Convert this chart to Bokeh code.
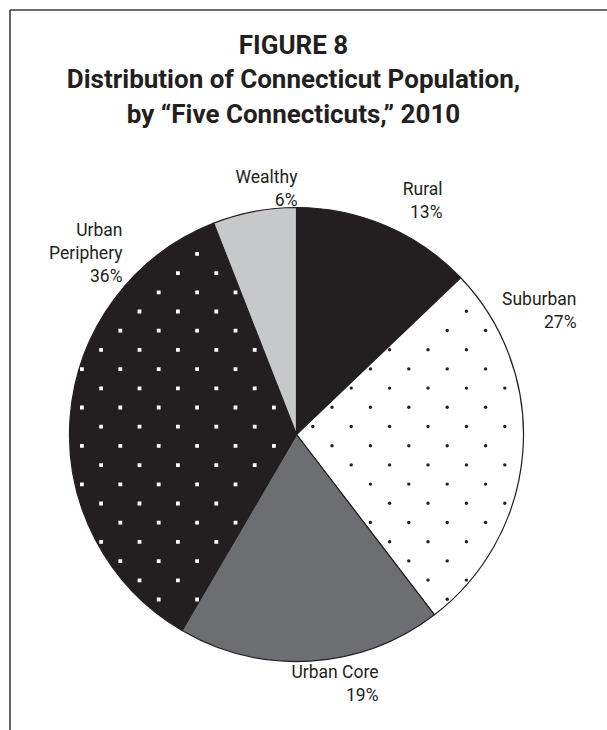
from bokeh.plotting import figure
from bokeh.models import Range1d, ColumnDataSource
from bokeh.embed import file_html
from bokeh.resources import INLINE
from bokeh.core.properties import value
import numpy as np

# ---- data ----
categories = ["Rural", "Suburban", "Urban Core", "Urban Periphery", "Wealthy"]
label_names = ["Rural", "Suburban", "Urban Core", "Urban\nPeriphery", "Wealthy"]
percents = [13, 27, 19, 36, 6]
fill_colors = ["#231f20", "#ffffff", "#6d6e71", "#231f20", "#c7c8ca"]

title_lines = ["FIGURE 8",
               "Distribution of Connecticut Population,",
               "by \u201cFive Connecticuts,\u201d 2010"]

# ---- layout (pixels) ----
W, H = 607, 730
CX, CY = 296, 434          # pie centre in page pixels
R = 227
FONT = "Roboto"
INK = "#231f20"
# label anchors: right edge x, top y (page pixels)
label_px = [(442, 178), (576, 288), (378, 661), (122, 219), (297, 166)]


def dx(px):
    return px - CX


def dy(py):
    return CY - py


vals = np.array(percents, dtype=float)
frac = vals / vals.sum()
cum = np.concatenate([[0.0], np.cumsum(frac)])
start = np.pi / 2 - cum[:-1] * 2 * np.pi
end = np.pi / 2 - cum[1:] * 2 * np.pi

src = ColumnDataSource(dict(
    cat=categories, start=start, end=end, color=fill_colors,
    x=[0.0] * len(categories), y=[0.0] * len(categories),
))

p = figure(width=W, height=H, output_backend="svg", toolbar_location=None,
           x_range=Range1d(-CX, W - CX), y_range=Range1d(CY - H, CY),
           x_axis_location=None, y_axis_location=None, min_border=0)
p.grid.visible = False
p.outline_line_color = None
p.background_fill_color = "white"
p.border_fill_color = "white"

p.wedge(x="x", y="y", radius=R, start_angle="start", end_angle="end",
        direction="clock", source=src, fill_color="color",
        line_color=INK, line_width=1.2)


# ---- decorative dot textures (staggered lattice clipped to a slice) ----
def texture(slice_idx, x0, y0, step=38.4, margin=2.5):
    half = step / 2
    n = int(R / half) + 4
    pts_x, pts_y = [], []
    for j in range(-n, n + 1):
        yy = y0 + j * half
        off = half if j % 2 else 0.0
        for i in range(-n, n + 1):
            xx = x0 + off + i * step
            r = np.hypot(xx, yy)
            if r > R - margin or r < 1e-6:
                continue
            t = (np.arctan2(xx, yy) % (2 * np.pi)) / (2 * np.pi)
            a0, a1 = cum[slice_idx], cum[slice_idx + 1]
            if not (a0 < t < a1):
                continue
            if r * np.sin(2 * np.pi * (t - a0)) < margin:
                continue
            if r * np.sin(2 * np.pi * (a1 - t)) < margin:
                continue
            pts_x.append(xx)
            pts_y.append(yy)
    return pts_x, pts_y


sx, sy = texture(categories.index("Suburban"), 16.3, 8.0)
p.scatter(sx, sy, marker="circle", size=3.4, fill_color=INK, line_color=None)
px_, py_ = texture(categories.index("Urban Periphery"), -157.0, 123.0)
p.scatter(px_, py_, marker="square", size=3.8, fill_color="white", line_color=None)

# frame lines
p.multi_line(xs=[[dx(9.5), dx(W)], [dx(9.5), dx(9.5)]],
             ys=[[dy(9.5), dy(9.5)], [dy(9.5), dy(H)]],
             line_color="#3d3d3f", line_width=1.6)

# title
p.text(x=[dx(293)], y=[dy(29)], text=["\n".join(title_lines)],
       text_font=value(FONT), text_font_style="bold",
       text_font_size="26px", text_align="center", text_baseline="top",
       text_line_height=1.15, text_color=INK)

# slice labels
labels = [f"{n}\n{v}%" for n, v in zip(label_names, percents)]
p.text(x=[dx(a) for a, b in label_px], y=[dy(b) for a, b in label_px],
       text=labels, text_font=value(FONT),
       text_font_size="17.5px", text_align="right", text_baseline="top",
       text_line_height=1.15, text_color=INK)

open("out.html", "w").write(file_html(p, INLINE))
